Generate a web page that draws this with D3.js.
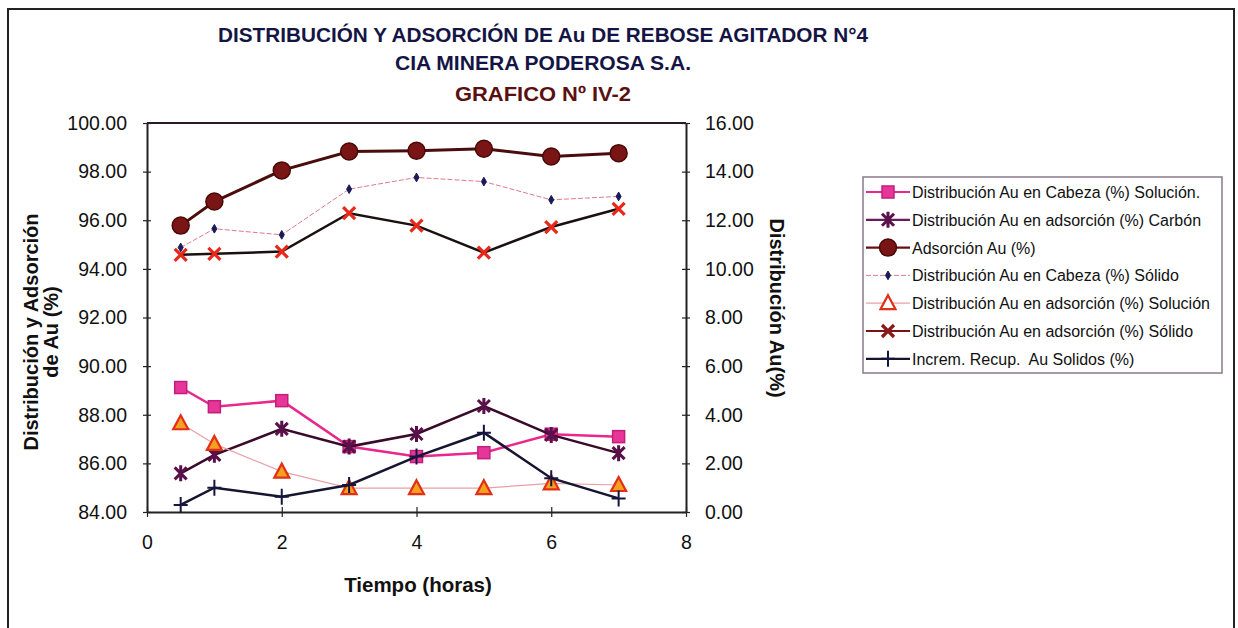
<!DOCTYPE html>
<html>
<head>
<meta charset="utf-8">
<script src="https://cdn.jsdelivr.net/npm/d3@7"></script>
<style>
  body { margin: 0; background: #fff; }
  svg { display: block; font-family: "Liberation Sans", Arial, sans-serif; }
  .leg text { white-space: pre; }
</style>
</head>
<body>
<div id="chart"></div>
<script>
var tiempo = [0.5, 1, 2, 3, 4, 5, 6, 7];
var cabezaSolucion = [89.12, 88.33, 88.58, 86.69, 86.28, 86.44, 87.20, 87.10];   // eje izq
var adsCarbon      = [85.59, 86.35, 87.42, 86.69, 87.21, 88.36, 87.17, 86.42];   // eje izq
var adsorcionAu    = [95.78, 96.77, 98.05, 98.83, 98.86, 98.94, 98.62, 98.76];   // eje izq
var cabezaSolido   = [10.88, 11.65, 11.40, 13.28, 13.76, 13.59, 12.84, 12.98];   // eje der
var adsSolucion    = [3.65, 2.80, 1.66, 0.98, 0.98, 0.98, 1.18, 1.11];           // eje der
var adsSolido      = [10.58, 10.62, 10.71, 12.29, 11.78, 10.67, 11.72, 12.47];   // eje der
var incremRecup    = [0.29, 1.00, 0.63, 1.11, 2.28, 3.26, 1.39, 0.56];           // eje der

var xTicks = [0, 2, 4, 6, 8];
var leftTicks = [84, 86, 88, 90, 92, 94, 96, 98, 100];
var rightTicks = [0, 2, 4, 6, 8, 10, 12, 14, 16];

var titulos = ["DISTRIBUCIÓN Y ADSORCIÓN DE Au DE REBOSE AGITADOR N°4", "CIA MINERA PODEROSA S.A.", "GRAFICO Nº IV-2"];

var series = [
  { name: "Distribución Au en Cabeza (%) Solución.", values: cabezaSolucion, axis: "L",
    line: "#e8288c", width: 2.5, dash: null, marker: "square", fill: "#e8359a", stroke: "#c0207a", legendLine: "#e8288c" },
  { name: "Distribución Au en adsorción (%) Carbón", values: adsCarbon, axis: "L",
    line: "#3a0a2a", width: 2.5, dash: null, marker: "star", fill: "none", stroke: "#5a1048", legendLine: "#6a1a5a" },
  { name: "Adsorción Au (%)", values: adsorcionAu, axis: "L",
    line: "#4a0c0c", width: 3, dash: null, marker: "circle", fill: "#7a1515", stroke: "#4a0808", legendLine: "#6a1010" },
  { name: "Distribución Au en Cabeza (%) Sólido", values: cabezaSolido, axis: "R",
    line: "#e07a8a", width: 1, dash: "5,2", marker: "dot", fill: "#1a1a5a", stroke: "#1a1a5a", legendLine: "#e07a8a" },
  { name: "Distribución Au en adsorción (%) Solución", values: adsSolucion, axis: "R",
    line: "#e8a0a8", width: 1.2, dash: null, marker: "triangle", fill: "#f5a020", stroke: "#e03015", legendLine: "#e8a0a8" },
  { name: "Distribución Au en adsorción (%) Sólido", values: adsSolido, axis: "R",
    line: "#1a1010", width: 2.5, dash: null, marker: "x", fill: "none", stroke: "#e8281a", legendLine: "#7a1515" },
  { name: "Increm. Recup.  Au Solidos (%)", values: incremRecup, axis: "R",
    line: "#151530", width: 2.5, dash: null, marker: "plus", fill: "none", stroke: "#151540", legendLine: "#151530" }
];

var W = 1238, H = 628;
var svg = d3.select("#chart").append("svg").attr("width", W).attr("height", H);

// marco exterior
svg.append("rect").attr("x", 8).attr("y", 9).attr("width", 1226).attr("height", 640)
  .attr("fill", "none").attr("stroke", "#222").attr("stroke-width", 2);

var plot = { left: 147, right: 686, top: 123, bottom: 512 };
var x = d3.scaleLinear().domain([0, 8]).range([plot.left, plot.right]);
var yL = d3.scaleLinear().domain([84, 100]).range([plot.bottom, plot.top]);
var yR = d3.scaleLinear().domain([0, 16]).range([plot.bottom, plot.top]);

// titulos
var tcfg = [
  { y: 42, len: 650, color: "#151545" },
  { y: 70, len: 296, color: "#151545" },
  { y: 101, len: 176, color: "#5a1010" }
];
titulos.forEach(function (t, i) {
  svg.append("text").text(t)
    .attr("x", 543).attr("y", tcfg[i].y)
    .attr("text-anchor", "middle")
    .attr("font-weight", "bold").attr("font-size", 20)
    .attr("textLength", tcfg[i].len).attr("lengthAdjust", "spacingAndGlyphs")
    .attr("fill", tcfg[i].color);
});

// borde superior del area
svg.append("line").attr("x1", plot.left).attr("x2", plot.right)
  .attr("y1", plot.top).attr("y2", plot.top)
  .attr("stroke", "#2a1a2a").attr("stroke-width", 2);

function styleAxis(g) {
  g.select(".domain").attr("stroke", "#222").attr("stroke-width", 2);
  g.selectAll(".tick line").attr("stroke", "#222").attr("stroke-width", 1.2);
  g.selectAll(".tick text").attr("fill", "#111").attr("font-size", 19.5)
    .attr("font-family", "Liberation Sans, Arial, sans-serif");
}

var axL = svg.append("g").attr("transform", "translate(" + plot.left + ",0)")
  .call(d3.axisLeft(yL).tickValues(leftTicks).tickSize(4).tickSizeOuter(0).tickPadding(16)
    .tickFormat(d3.format(".2f")));
axL.selectAll(".tick line").attr("x1", 4).attr("x2", -4);
styleAxis(axL);

var axR = svg.append("g").attr("transform", "translate(" + plot.right + ",0)")
  .call(d3.axisRight(yR).tickValues(rightTicks).tickSize(4).tickSizeOuter(0).tickPadding(15)
    .tickFormat(d3.format(".2f")));
axR.selectAll(".tick line").attr("x1", -4).attr("x2", 4);
styleAxis(axR);

var axX = svg.append("g").attr("transform", "translate(0," + plot.bottom + ")")
  .call(d3.axisBottom(x).tickValues(xTicks).tickSize(5).tickSizeOuter(0).tickPadding(18)
    .tickFormat(d3.format("d")));
axX.selectAll(".tick line").attr("y1", -5).attr("y2", 5);
styleAxis(axX);

// titulos de ejes
svg.append("text").text("Tiempo (horas)")
  .attr("x", 418).attr("y", 592).attr("text-anchor", "middle")
  .attr("font-weight", "bold").attr("font-size", 20.5).attr("fill", "#111");

var lt = svg.append("text").attr("transform", "translate(38,332) rotate(-90)")
  .attr("text-anchor", "middle").attr("font-weight", "bold").attr("font-size", 20).attr("fill", "#111");
lt.append("tspan").attr("x", 0).attr("y", 0).text("Distribución y Adsorción");
lt.append("tspan").attr("x", 0).attr("y", 20).text("de Au (%)");

svg.append("text").text("Distribución Au(%)")
  .attr("transform", "translate(770,308) rotate(90)")
  .attr("text-anchor", "middle").attr("font-weight", "bold").attr("font-size", 20).attr("fill", "#111");

// marcadores
function drawMarker(g, type, s, cx, cy) {
  var p;
  if (type === "square") {
    p = g.append("rect").attr("x", cx - 6).attr("y", cy - 6).attr("width", 12).attr("height", 12);
  } else if (type === "circle") {
    p = g.append("circle").attr("cx", cx).attr("cy", cy).attr("r", 8.5);
  } else if (type === "dot") {
    p = g.append("path").attr("d", d3.symbol(d3.symbolDiamond, 22)()).attr("transform", "translate(" + cx + "," + cy + ")");
  } else if (type === "triangle") {
    p = g.append("path").attr("d", "M0,-8L7.5,6L-7.5,6Z").attr("transform", "translate(" + cx + "," + cy + ")")
      .attr("stroke-width", 2.2);
  } else if (type === "x") {
    p = g.append("path").attr("d", "M-6,-6L6,6M-6,6L6,-6").attr("transform", "translate(" + cx + "," + cy + ")")
      .attr("stroke-width", 3.2);
  } else if (type === "star") {
    p = g.append("path").attr("d", "M-6,-6L6,6M-6,6L6,-6M0,-8L0,8").attr("transform", "translate(" + cx + "," + cy + ")")
      .attr("stroke-width", 3);
  } else if (type === "plus") {
    p = g.append("path").attr("d", "M-7,0L7,0M0,-8L0,8").attr("transform", "translate(" + cx + "," + cy + ")")
      .attr("stroke-width", 2);
  }
  p.attr("fill", s.fill).attr("stroke", s.stroke);
  if (type === "square" || type === "circle") p.attr("stroke-width", 1.5);
  return p;
}

var plotG = svg.append("g");
series.forEach(function (s) {
  var yS = s.axis === "L" ? yL : yR;
  var pts = tiempo.map(function (t, i) { return [t, s.values[i]]; });
  var line = d3.line().x(function (d) { return x(d[0]); }).y(function (d) { return yS(d[1]); });
  plotG.append("path").datum(pts).attr("d", line)
    .attr("fill", "none").attr("stroke", s.line).attr("stroke-width", s.width)
    .attr("stroke-dasharray", s.dash);
  var mg = plotG.append("g");
  pts.forEach(function (d) { drawMarker(mg, s.marker, s, x(d[0]), yS(d[1])); });
});

// leyenda
var leg = svg.append("g").attr("class", "leg");
leg.append("rect").attr("x", 863).attr("y", 177).attr("width", 359).attr("height", 196)
  .attr("fill", "#fff").attr("stroke", "#8a7a8a").attr("stroke-width", 1.5);
series.forEach(function (s, i) {
  var ly = 192 + i * 27.8;
  leg.append("line").attr("x1", 866).attr("x2", 910).attr("y1", ly).attr("y2", ly)
    .attr("stroke", s.legendLine).attr("stroke-width", Math.min(s.width, 2.2))
    .attr("stroke-dasharray", s.dash);
  var m = drawMarker(leg, s.marker, s, 888, ly);
  if (s.marker === "x") m.attr("stroke", "#8a1a1a");
  if (s.marker === "triangle") m.attr("fill", "#fff");
  leg.append("text").text(s.name).attr("x", 912).attr("y", ly + 6)
    .attr("font-size", 16).attr("fill", "#111");
});
</script>
</body>
</html>
